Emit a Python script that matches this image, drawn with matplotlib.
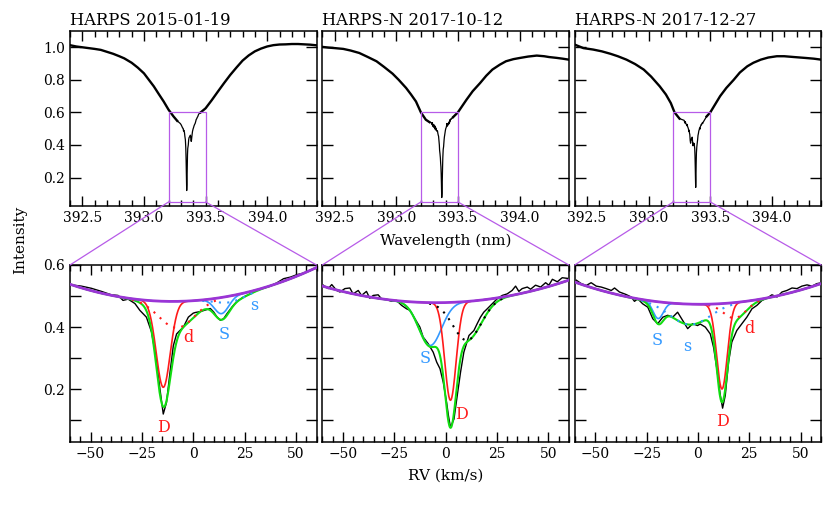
import numpy as np
import matplotlib
matplotlib.use("Agg")
import matplotlib.pyplot as plt
from matplotlib.patches import Rectangle, ConnectionPatch
from matplotlib.ticker import FixedLocator, MultipleLocator, FormatStrFormatter

plt.rcParams['font.family'] = ['DejaVu Serif']

# Data

titles = ["HARPS 2015-01-19", "HARPS-N 2017-10-12", "HARPS-N 2017-12-27"]

ca_k_air = 393.366       # nm, rest wavelength of Ca II K
c_kms = 299792.458

# Wide spectra (top panels), blue wing and red wing

wl1_blue = [392.405, 392.45, 392.5, 392.55, 392.6, 392.65, 392.7, 392.75, 392.8, 392.84,
            392.9, 392.95, 393.0, 393.04, 393.08, 393.12, 393.16, 393.2, 393.24, 393.27]
fl1_blue = [1.012, 1.005, 1.0, 0.995, 0.99, 0.984, 0.972, 0.96, 0.945, 0.932,
            0.905, 0.875, 0.84, 0.80, 0.76, 0.713, 0.667, 0.616, 0.575, 0.548]
wl1_red = [393.46, 393.5, 393.55, 393.6, 393.65, 393.7, 393.75, 393.8, 393.85, 393.9,
           393.95, 394.0, 394.05, 394.1, 394.15, 394.2, 394.25, 394.3, 394.35, 394.4]
fl1_red = [0.600, 0.625, 0.675, 0.728, 0.78, 0.83, 0.875, 0.918, 0.95, 0.975,
           0.992, 1.005, 1.013, 1.017, 1.018, 1.02, 1.02, 1.018, 1.016, 1.012]

wl2_blue = [392.405, 392.45, 392.5, 392.57, 392.63, 392.7, 392.77, 392.84, 392.9, 392.97,
            393.02, 393.08, 393.12, 393.16, 393.2, 393.24, 393.27]
fl2_blue = [1.002, 0.998, 0.995, 0.99, 0.98, 0.965, 0.94, 0.914, 0.88, 0.838,
            0.80, 0.75, 0.71, 0.667, 0.60, 0.555, 0.54]
wl2_red = [393.46, 393.5, 393.57, 393.62, 393.68, 393.73, 393.78, 393.84, 393.89, 393.95,
           394.0, 394.07, 394.14, 394.2, 394.24, 394.3, 394.35, 394.4]
fl2_red = [0.57, 0.60, 0.678, 0.73, 0.78, 0.825, 0.863, 0.893, 0.914, 0.927,
           0.934, 0.943, 0.949, 0.945, 0.94, 0.935, 0.93, 0.924]

wl3_blue = [392.405, 392.47, 392.55, 392.62, 392.69, 392.75, 392.82, 392.89, 392.96, 393.02,
            393.09, 393.14, 393.18, 393.21, 393.25]
fl3_blue = [1.015, 0.995, 0.986, 0.975, 0.96, 0.945, 0.924, 0.897, 0.863, 0.82,
            0.76, 0.71, 0.657, 0.60, 0.562]
wl3_red = [393.47, 393.5, 393.54, 393.58, 393.63, 393.69, 393.74, 393.8, 393.85, 393.91,
           393.97, 394.04, 394.1, 394.18, 394.23, 394.28, 394.34, 394.4]
fl3_red = [0.575, 0.60, 0.65, 0.70, 0.75, 0.80, 0.845, 0.883, 0.905, 0.924,
           0.937, 0.945, 0.945, 0.94, 0.937, 0.934, 0.93, 0.924]

# Zoomed spectra (bottom panels), RV in km/s

rv1 = [-59.4, -54.5, -49.6, -44.7, -39.9, -36.6, -34.2, -31.7, -28.4, -26.0,
       -24.4, -22.8, -20.3, -18.3, -16.2, -14.6, -13.0, -11.3, -9.7, -8.1,
       -6.5, -4.8, -2.4, 0.0, 1.0, 3.4, 5.9, 8.3, 9.9, 11.5,
       13.2, 14.8, 16.4, 18.9, 21.3, 24.5, 27.8, 31.0, 34.3, 37.6,
       40.8, 44.0, 47.3, 50.5, 53.8, 57.0, 60.0]
fl1 = [0.536, 0.532, 0.525, 0.515, 0.504, 0.502, 0.486, 0.490, 0.476, 0.454,
       0.443, 0.432, 0.384, 0.309, 0.200, 0.120, 0.158, 0.255, 0.340, 0.378,
       0.389, 0.400, 0.432, 0.445, 0.447, 0.450, 0.455, 0.460, 0.449, 0.433,
       0.422, 0.427, 0.443, 0.465, 0.483, 0.497, 0.507, 0.518, 0.526, 0.532,
       0.543, 0.556, 0.561, 0.569, 0.574, 0.583, 0.590]

rv2 = [-59.5, -57.1, -55.4, -53.0, -51.4, -49.0, -46.6, -45.0, -42.5, -40.9,
       -38.5, -36.9, -35.2, -32.8, -31.2, -28.7, -26.3, -23.9, -21.4, -19.0,
       -17.3, -14.9, -12.5, -10.9, -8.4, -6.0, -4.3, -2.7, -1.1, 0.5,
       1.4, 2.4, 4.1, 5.7, 7.3, 8.9, 11.4, 13.8, 15.4, 17.0,
       18.6, 20.3, 22.7, 25.1, 27.6, 30.0, 32.4, 34.1, 35.7, 37.3,
       39.8, 41.4, 43.8, 46.3, 48.7, 50.3, 52.0, 54.4, 56.8, 59.3]
fl2 = [0.535, 0.524, 0.537, 0.518, 0.513, 0.524, 0.526, 0.507, 0.518, 0.502,
       0.515, 0.493, 0.502, 0.504, 0.491, 0.489, 0.483, 0.486, 0.470, 0.459,
       0.454, 0.427, 0.400, 0.368, 0.346, 0.319, 0.287, 0.266, 0.222, 0.158,
       0.115, 0.077, 0.104, 0.180, 0.255, 0.319, 0.373, 0.389, 0.411, 0.432,
       0.448, 0.459, 0.475, 0.491, 0.502, 0.507, 0.518, 0.532, 0.515, 0.524,
       0.529, 0.522, 0.535, 0.529, 0.543, 0.535, 0.554, 0.546, 0.559, 0.557]

rv3 = [-59.2, -56.8, -54.4, -52.0, -49.5, -47.1, -44.7, -42.2, -40.6, -38.2,
       -35.0, -32.5, -30.9, -29.3, -26.9, -24.4, -22.0, -19.6, -17.1, -14.7,
       -12.3, -9.9, -7.4, -5.0, -2.6, -0.2, 1.1, 3.6, 6.0, 7.6,
       9.2, 10.9, 12.0, 13.3, 14.9, 16.5, 18.9, 21.4, 23.8, 26.3,
       28.7, 31.2, 33.6, 36.0, 38.5, 40.9, 43.3, 45.8, 48.2, 50.6,
       53.1, 55.5, 57.9, 60.3]
fl3 = [0.551, 0.540, 0.534, 0.543, 0.532, 0.529, 0.524, 0.518, 0.526, 0.513,
       0.505, 0.497, 0.483, 0.491, 0.475, 0.464, 0.427, 0.411, 0.432, 0.438,
       0.432, 0.448, 0.421, 0.395, 0.411, 0.405, 0.410, 0.400, 0.378, 0.335,
       0.266, 0.180, 0.139, 0.180, 0.287, 0.352, 0.389, 0.411, 0.432, 0.459,
       0.470, 0.486, 0.493, 0.504, 0.497, 0.513, 0.518, 0.526, 0.524, 0.532,
       0.536, 0.532, 0.540, 0.543]

# Fit: local continuum (a + b*v + q*v^2) and gaussian absorption components

cont1 = [0.485, 0.00045, 2.22e-5]
cont2 = [0.479, 0.000158, 1.74e-5]
cont3 = [0.4735, -0.00004, 1.92e-5]

names1 = ["D", "d", "S", "s"]
center1 = [-14.6, -8.0, 13.8, 18.0]
depth1 = [0.277, 0.085, 0.052, 0.020]
sigma1 = [3.4, 8.5, 3.5, 7.0]

names2 = ["S", "D", "x"]
center2 = [-7.5, 2.4, 10.5]
depth2 = [0.138, 0.315, 0.125]
sigma2 = [5.5, 2.76, 6.8]

names3 = ["S", "s", "D", "d"]
center3 = [-19.4, -4.0, 11.7, 18.0]
depth3 = [0.054, 0.066, 0.275, 0.050]
sigma3 = [2.5, 9.5, 2.6, 5.5]

# label positions (RV, intensity)
labels1 = {"D": (-14.5, 0.078), "d": (-2.3, 0.365), "S": (15.1, 0.376), "s": (29.9, 0.469)}
labels2 = {"S": (-9.9, 0.300), "D": (8.0, 0.119)}
labels3 = {"S": (-20.0, 0.358), "s": (-5.4, 0.339), "d": (25.0, 0.396), "D": (12.0, 0.097)}

# ==========================================================
# Styles
# ==========================================================

RED = "#ff1a1a"
BLUE = "#3399ff"
GREEN = "#11dd11"
PURPLE = "#9a35d6"
BOXC = "#b75be8"

comp_style = {
    "D": dict(color=RED, ls="-", lw=1.2, zorder=3),
    "d": dict(color=RED, ls=(0, (1, 3)), lw=1.5, zorder=4.5),
    "S": dict(color=BLUE, ls="-", lw=1.2, zorder=3),
    "s": dict(color=BLUE, ls=(0, (1, 3)), lw=1.5, zorder=4.5),
    "x": dict(color="black", ls=(0, (1, 3)), lw=1.5, zorder=4.5),
}
label_color = {"D": RED, "d": RED, "S": BLUE, "s": BLUE}

fig = plt.figure(figsize=(8.3, 5.12), dpi=100)

W, H = 830, 512
lefts = [70, 322.3, 574.7]
pw = 246.5

top_axes = []
bot_axes = []
for i in range(3):
    top_axes.append(fig.add_axes([lefts[i] / W, 1 - 206 / H, pw / W, 175 / H]))
    bot_axes.append(fig.add_axes([lefts[i] / W, 1 - 442 / H, pw / W, 177 / H]))

wide = [(wl1_blue, fl1_blue, wl1_red, fl1_red),
        (wl2_blue, fl2_blue, wl2_red, fl2_red),
        (wl3_blue, fl3_blue, wl3_red, fl3_red)]
zoomed = [(rv1, fl1), (rv2, fl2), (rv3, fl3)]
conts = [cont1, cont2, cont3]
comps = [(names1, center1, depth1, sigma1),
         (names2, center2, depth2, sigma2),
         (names3, center3, depth3, sigma3)]
labels = [labels1, labels2, labels3]

v = np.linspace(-60, 60, 601)

for i in range(3):
    ax = top_axes[i]
    wb, fb, wr, fr = wide[i]
    rv, fl = zoomed[i]
    wl_core = ca_k_air * (1 + np.array(rv) / c_kms)
    ax.plot(wb, fb, color="black", lw=1.7, solid_joinstyle="round")
    ax.plot(wr, fr, color="black", lw=1.7, solid_joinstyle="round")
    ax.plot(np.concatenate([[wb[-1]], wl_core, [wr[0]]]),
            np.concatenate([[fb[-1]], fl, [fr[0]]]), color="black", lw=0.9)
    ax.add_patch(Rectangle((393.2, 0.05), 0.3, 0.55, fill=False, ec=BOXC, lw=0.9, zorder=5))
    ax.set_xlim(392.4, 394.4)
    ax.set_ylim(0.025, 1.1)
    ax.xaxis.set_major_locator(FixedLocator([392.5, 393.0, 393.5, 394.0]))
    ax.xaxis.set_minor_locator(MultipleLocator(0.1))
    ax.xaxis.set_major_formatter(FormatStrFormatter("%.1f"))
    ax.yaxis.set_major_locator(FixedLocator([0.2, 0.4, 0.6, 0.8, 1.0]))
    ax.yaxis.set_major_formatter(FormatStrFormatter("%.1f"))
    ax.tick_params(which="both", direction="in", top=True, right=True, labelsize=10, width=1)
    ax.tick_params(axis="y", which="major", length=8)
    ax.tick_params(axis="x", which="major", length=7)
    ax.tick_params(axis="x", which="minor", length=4)
    if i > 0:
        ax.tick_params(labelleft=False)
    ax.text(0, 1.035, titles[i], transform=ax.transAxes, fontsize=11.8, va="baseline", ha="left")

    # bottom panel
    bx = bot_axes[i]
    a, b, q = conts[i]
    cont = a + b * v + q * v ** 2
    bx.plot(rv, fl, color="black", lw=1.0, zorder=2)
    names, cen, dep, sig = comps[i]
    total = cont.copy()
    for n, c0, d0, s0 in zip(names, cen, dep, sig):
        prof = d0 * np.exp(-0.5 * ((v - c0) / s0) ** 2)
        total = total - prof
        y = cont - prof
        if comp_style[n]["ls"] != "-":
            y = np.where(prof > 0.003, y, np.nan)
        bx.plot(v, y, **comp_style[n])
    bx.plot(v, total, color=GREEN, lw=1.5, zorder=4)
    bx.plot(v, cont, color=PURPLE, lw=2.0, zorder=5)
    for n, (lx, ly) in labels[i].items():
        bx.text(lx, ly, n, color=label_color[n], fontsize=11.5, ha="center", va="center")
    bx.set_xlim(-60, 60)
    bx.set_ylim(0.03, 0.6)
    bx.xaxis.set_major_locator(FixedLocator([-50, -25, 0, 25, 50]))
    bx.xaxis.set_minor_locator(MultipleLocator(5))
    bx.yaxis.set_major_locator(FixedLocator([0.2, 0.4, 0.6]))
    bx.yaxis.set_minor_locator(FixedLocator([0.1, 0.3, 0.5]))
    bx.yaxis.set_major_formatter(FormatStrFormatter("%.1f"))
    bx.tick_params(which="both", direction="in", top=True, right=True, labelsize=10, width=1)
    bx.tick_params(axis="y", which="both", length=8)
    bx.tick_params(axis="x", which="major", length=7)
    bx.tick_params(axis="x", which="minor", length=4)
    if i > 0:
        bx.tick_params(labelleft=False)

    for axx in (ax, bx):
        for sp in axx.spines.values():
            sp.set_linewidth(1.1)

    # connector lines from box to zoom panel
    for xa, xb in ((393.2, -60), (393.5, 60)):
        con = ConnectionPatch(xyA=(xa, 0.05), coordsA=ax.transData,
                              xyB=(xb, 0.6), coordsB=bx.transData,
                              color=BOXC, lw=0.9)
        fig.add_artist(con)

fig.text(445.5 / W, 1 - 241 / H, "Wavelength (nm)", ha="center", va="center", fontsize=11)
fig.text(445.5 / W, 1 - 476 / H, "RV (km/s)", ha="center", va="center", fontsize=11)
fig.text(20 / W, 1 - 240 / H, "Intensity", ha="center", va="center", rotation=90, fontsize=11)

plt.savefig("out.png", dpi=100)
